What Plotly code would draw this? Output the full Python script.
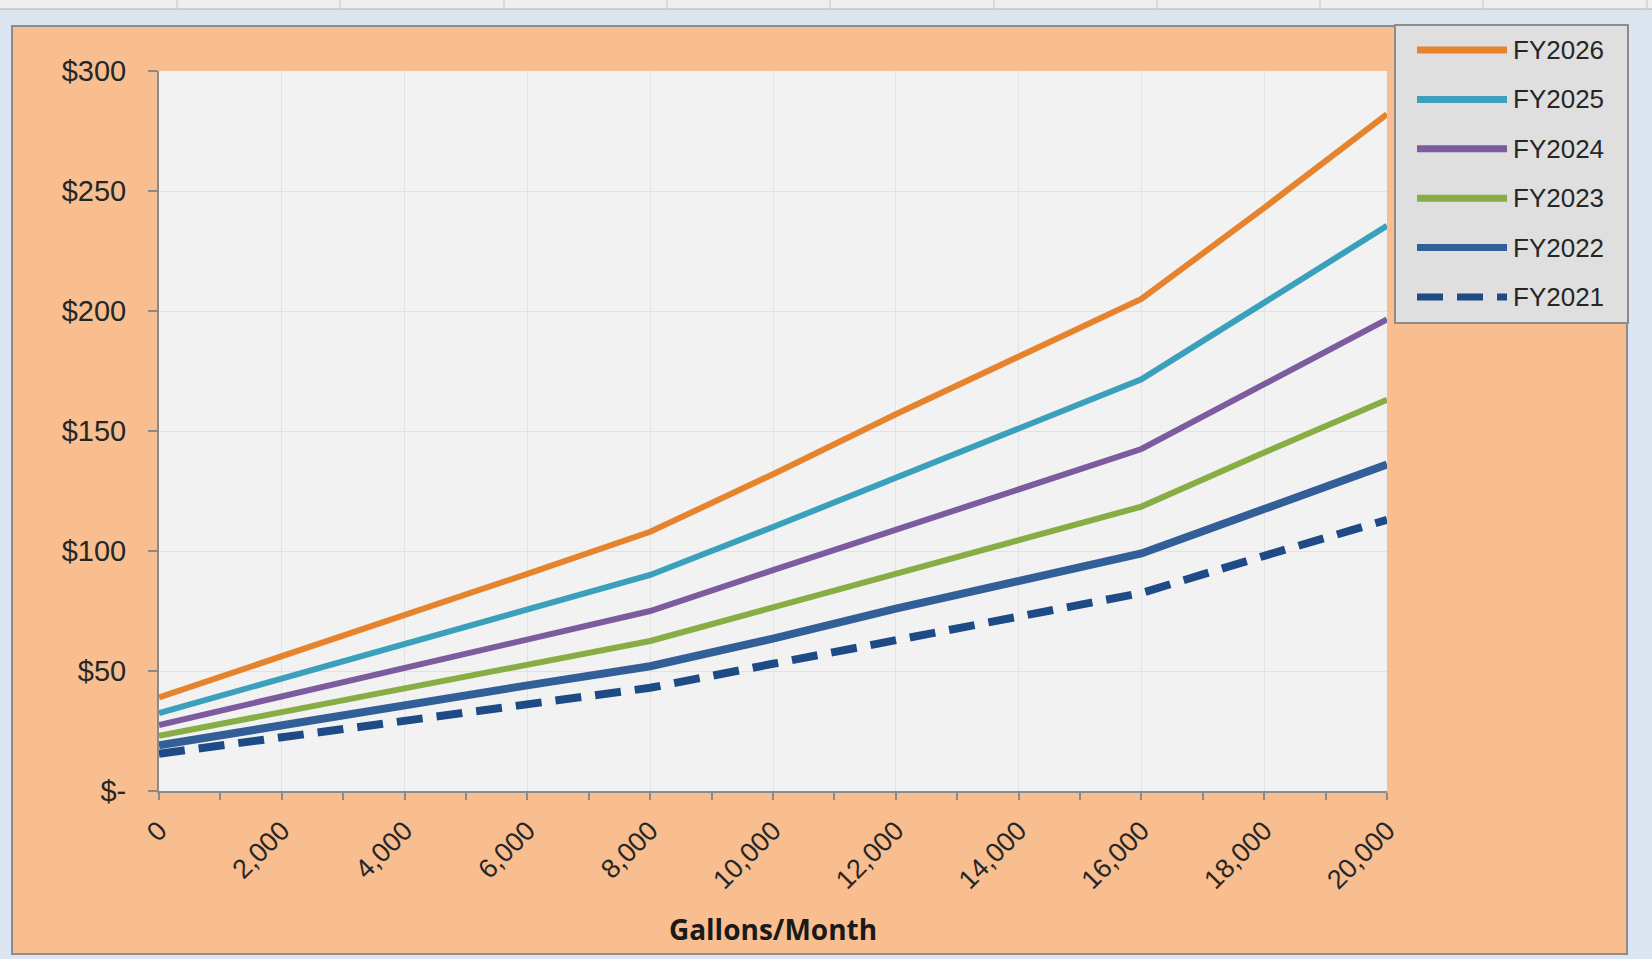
import plotly.graph_objects as go

# ---- data -------------------------------------------------------------
gallons = [0, 2000, 4000, 6000, 8000, 10000, 12000, 14000, 16000, 18000, 20000]

fy2026 = [39, 56, 73, 90.5, 108, 132, 157, 181, 205, 243, 282]
fy2025 = [32.5, 47, 61, 75.5, 90, 110, 130.5, 151, 171.5, 203.5, 235.5]
fy2024 = [27.5, 39.5, 51, 63, 75, 92, 109, 126, 142.5, 169.5, 196.5]
fy2023 = [23, 33, 42.5, 52.5, 62.5, 76.5, 90.5, 104.5, 118.5, 141, 163]
fy2022 = [19, 27.5, 35.5, 44, 52, 63.5, 76, 87.5, 99, 117.5, 136]
fy2021 = [15.5, 22.5, 29.5, 36, 43, 53, 63, 73, 82.5, 98, 113]

series_names = ["FY2026", "FY2025", "FY2024", "FY2023", "FY2022", "FY2021"]
series_values = [fy2026, fy2025, fy2024, fy2023, fy2022, fy2021]

y_tick_values = [0, 50, 100, 150, 200, 250, 300]
y_tick_labels = ["$-", "$50", "$100", "$150", "$200", "$250", "$300"]
x_tick_values = [0, 2000, 4000, 6000, 8000, 10000, 12000, 14000, 16000, 18000, 20000]
x_tick_labels = [f"{v:,}" for v in x_tick_values]
x_minor_ticks = [1000, 3000, 5000, 7000, 9000, 11000, 13000, 15000, 17000, 19000]

# ---- styling ----------------------------------------------------------
colors = ["#E6842E", "#3AA0BC", "#7C5B9F", "#88AD44", "#335F98", "#1E4B86"]
widths = [6, 6, 6, 6, 8, 8]
dashes = ["solid", "solid", "solid", "solid", "solid", "26px,14px"]

W, H = 1652, 959
L, R, T, B = 159, 1387, 71, 791          # plot area in pixels


def px(x):
    return (x - L) / (R - L)


def py(y):
    return (B - y) / (B - T)


AXIS_GRAY = "#8A8A8A"
TEXT = "#262626"
FONT = "Liberation Sans, Arial, sans-serif"

fig = go.Figure()

for name, vals, c, w, d in zip(series_names, series_values, colors, widths, dashes):
    fig.add_trace(go.Scatter(
        x=gallons, y=vals, name=name, mode="lines",
        line=dict(color=c, width=w, dash=d),
        showlegend=False,
    ))

shapes = []
# spreadsheet strip along the top
shapes.append(dict(type="rect", xref="paper", yref="paper", layer="below",
                   x0=px(0), x1=px(W), y0=py(0), y1=py(9),
                   fillcolor="#EFEFEF", line=dict(width=0)))
shapes.append(dict(type="line", xref="paper", yref="paper", layer="below",
                   x0=px(0), x1=px(W), y0=py(9), y1=py(9),
                   line=dict(color="#B0B0B0", width=1)))
for cx in [177, 340, 504, 667, 830, 994, 1157, 1320, 1483, 1647]:
    shapes.append(dict(type="line", xref="paper", yref="paper", layer="below",
                       x0=px(cx), x1=px(cx), y0=py(0), y1=py(9),
                       line=dict(color="#C4C4C4", width=1)))
# chart frame
shapes.append(dict(type="rect", xref="paper", yref="paper", layer="below",
                   x0=px(12), x1=px(1627), y0=py(954), y1=py(26),
                   fillcolor="#F8BE8F", line=dict(color="#8C8C8C", width=2)))
# plot area
shapes.append(dict(type="rect", xref="paper", yref="paper", layer="below",
                   x0=0, x1=1, y0=0, y1=1,
                   fillcolor="#F2F2F2", line=dict(width=0)))
# legend box
shapes.append(dict(type="rect", xref="paper", yref="paper", layer="below",
                   x0=px(1395), x1=px(1628), y0=py(323), y1=py(25),
                   fillcolor="#DFDFDF", line=dict(color="#8C8C8C", width=2)))

annotations = []
for i, (name, c, d) in enumerate(zip(series_names, colors, dashes)):
    yc = 50 + i * 49.4
    shapes.append(dict(type="line", xref="paper", yref="paper", layer="above",
                       x0=px(1417), x1=px(1507), y0=py(yc), y1=py(yc),
                       line=dict(color=c, width=7, dash=d)))
    annotations.append(dict(xref="paper", yref="paper", x=px(1511), y=py(yc),
                            xanchor="left", yanchor="middle", showarrow=False,
                            text=name, font=dict(family=FONT, size=26, color=TEXT)))

fig.update_layout(
    width=W, height=H,
    margin=dict(l=L, r=W - R, t=T, b=H - B, autoexpand=False),
    paper_bgcolor="#DCE6F1",
    plot_bgcolor="rgba(0,0,0,0)",
    shapes=shapes,
    annotations=annotations,
    showlegend=False,
    xaxis=dict(
        range=[0, 20000], tickmode="array", tickvals=x_tick_values, ticktext=x_tick_labels,
        tickangle=-45, ticks="outside", ticklen=7, tickwidth=2, tickcolor=AXIS_GRAY,
        showline=True, linecolor=AXIS_GRAY, linewidth=2, zeroline=False,
        showgrid=True, gridcolor="#E2E2E2", gridwidth=1,
        minor=dict(tickmode="array", tickvals=x_minor_ticks, ticks="outside", ticklen=7,
                   tickwidth=2, tickcolor=AXIS_GRAY, showgrid=False),
        tickfont=dict(family=FONT, size=27, color=TEXT),
        ticklabelstandoff=4,
        title=dict(text="Gallons/Month", standoff=26,
                   font=dict(family="Open Sans, sans-serif", size=28, color="#1A1A1A", weight="bold")),
        automargin=False,
    ),
    yaxis=dict(
        range=[0, 300], tickmode="array", tickvals=y_tick_values, ticktext=y_tick_labels,
        ticks="outside", ticklen=9, tickwidth=2, tickcolor=AXIS_GRAY,
        showline=True, linecolor=AXIS_GRAY, linewidth=2, zeroline=False,
        showgrid=True, gridcolor="#E2E2E2", gridwidth=1,
        tickfont=dict(family=FONT, size=29, color=TEXT),
        ticklabelstandoff=16,
        automargin=False,
    ),
)

fig.write_html("out.html")
